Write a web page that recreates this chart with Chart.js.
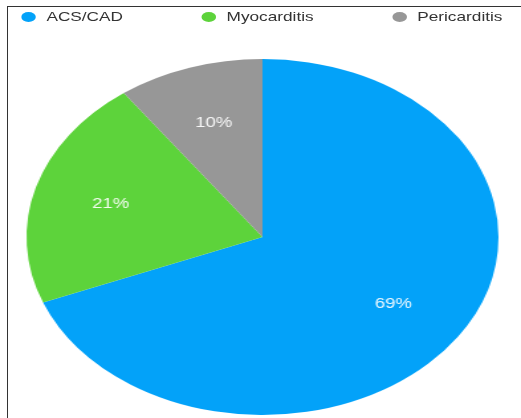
<!DOCTYPE html>
<html>
<head>
<meta charset="utf-8">
<script src="https://cdn.jsdelivr.net/npm/chart.js"></script>
<style>
    html, body { margin: 0; padding: 0; background: #fff; }
    body { width: 521px; height: 418px; position: relative; overflow: hidden; font-family: "Liberation Sans", Arial, sans-serif; }
    #moldura { position: absolute; left: 7px; top: 6px; width: 530px; height: 430px; border-top: 1px solid #333; border-left: 1px solid #333; }
    /* o original esta esticado na horizontal, entao desenha estreito e estica */
    #area { position: absolute; left: 0; top: 0; width: 393px; height: 418px; transform: scaleX(1.3257); transform-origin: 0 0; }
    #caixaGrafico { position: absolute; left: 0; top: 0; width: 393px; height: 418px; }
    #legenda { position: absolute; left: 16px; right: 14px; top: 9px; display: flex; justify-content: space-between; font-size: 13px; color: #333; z-index: 2; }
    .item { display: flex; align-items: center; }
    .bola { width: 11px; height: 10px; border-radius: 50%; margin-right: 8px; }
</style>
</head>
<body>
<div id="moldura"></div>
<div id="area">
    <div id="legenda"></div>
    <div id="caixaGrafico"><canvas id="meuGrafico"></canvas></div>
</div>
<script>
const categorias = ['ACS/CAD', 'Myocarditis', 'Pericarditis'];
const percentuais = [69, 21, 10];
const cores = ['#03a2f9', '#5dd33b', '#979797'];

// legenda feita em html, com os mesmos arrays
const legenda = document.getElementById('legenda');
categorias.forEach((nome, i) => {
    const item = document.createElement('div');
    item.className = 'item';
    item.innerHTML = '<span class="bola" style="background:' + cores[i] + '"></span><span>' + nome + '</span>';
    legenda.appendChild(item);
});

// escreve o percentual dentro de cada fatia
const rotulos = {
    id: 'rotulos',
    afterDatasetsDraw(chart) {
        const ctx = chart.ctx;
        const meta = chart.getDatasetMeta(0);
        ctx.save();
        ctx.font = '14px "Liberation Sans", Arial, sans-serif';
        ctx.fillStyle = 'rgba(255,255,255,0.92)';
        ctx.textAlign = 'center';
        ctx.textBaseline = 'middle';
        meta.data.forEach((arco, i) => {
            const p = arco.getProps(['x', 'y', 'startAngle', 'endAngle', 'outerRadius'], true);
            const meio = (p.startAngle + p.endAngle) / 2;
            const r = p.outerRadius * 0.67;
            ctx.fillText(percentuais[i] + '%', p.x + Math.cos(meio) * r, p.y + Math.sin(meio) * r);
        });
        ctx.restore();
    }
};

const dados = {
    labels: categorias,
    datasets: [{
        data: percentuais,
        backgroundColor: cores,
        borderWidth: 0
    }]
};

var configuracao = {
    type: 'pie',
    data: dados,
    options: {
        responsive: true,
        maintainAspectRatio: false,
        animation: false,
        layout: { padding: { top: 59, bottom: 3, left: 20, right: 17 } },
        plugins: {
            legend: { display: false },
            tooltip: { enabled: false }
        }
    },
    plugins: [rotulos]
};

var meuGrafico = new Chart(document.getElementById('meuGrafico'), configuracao);
</script>
</body>
</html>
